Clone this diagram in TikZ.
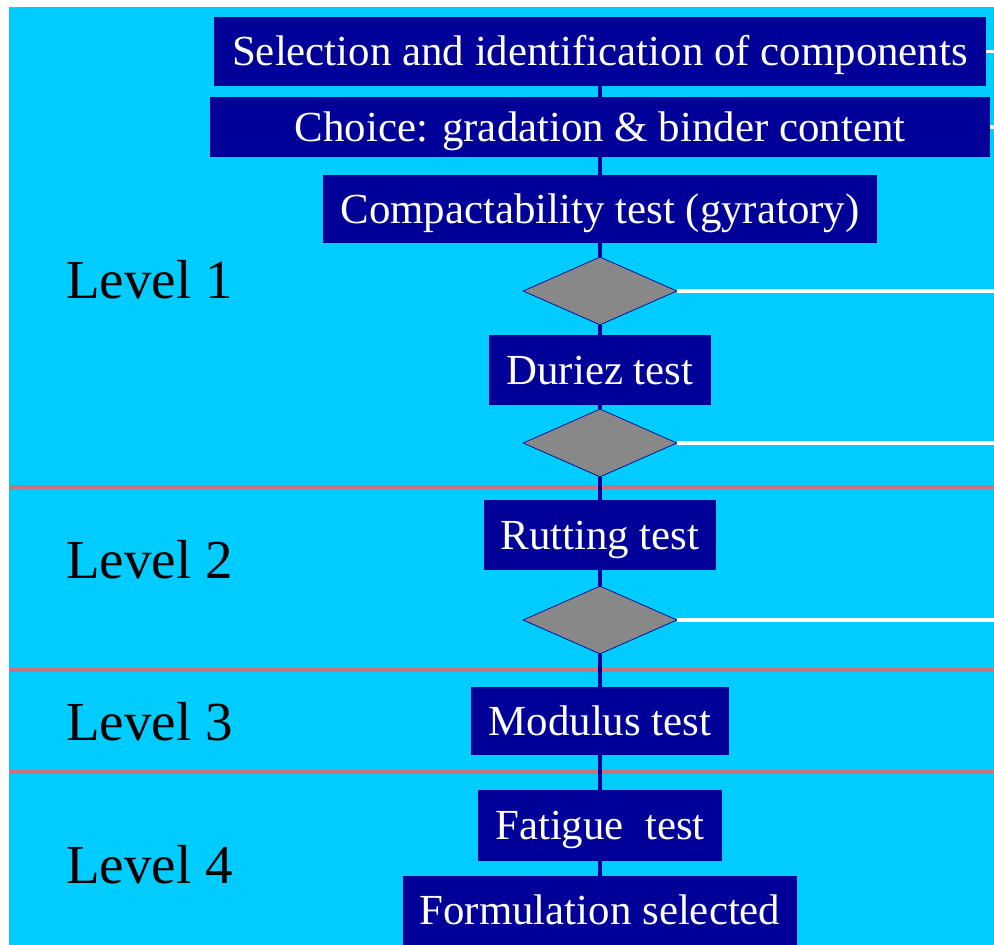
\documentclass[tikz,border=0pt]{standalone}
\usepackage{fontspec}
\setmainfont{Liberation Serif}
\usepackage{tikz}
\usetikzlibrary{shapes,positioning}
\usepackage{xcolor}
\definecolor{flcyan}{RGB}{0,204,255}
\definecolor{flnavy}{RGB}{0,0,153}
\definecolor{flgray}{RGB}{136,136,136}
\definecolor{flsep}{RGB}{200,116,124}
\tikzstyle{testbox} = [rectangle, fill=flnavy, text=white, inner sep=0pt, text height=16pt, text depth=0pt, minimum height=1.38cm, font=\fontsize{24.4}{28}\selectfont]
\tikzstyle{decision} = [diamond, fill=flgray, draw=flnavy, thin, inner sep=0pt, minimum width=3.08cm, minimum height=1.36cm]
\tikzstyle{flow} = [line width=2.2pt, color=flnavy]
\tikzstyle{reject} = [line width=2.2pt, color=white]
\tikzstyle{levelsep} = [line width=1.8pt, color=flsep]
\tikzstyle{level} = [anchor=base west, inner sep=0pt, font=\fontsize{31.3}{36}\selectfont]

\begin{document}
\begin{tikzpicture}[x=0.02cm, y=-0.02cm]
\useasboundingbox (0,0) rectangle (994,945);
\fill[flcyan] (9,7) rectangle (994,945);

% Level borders
\draw[levelsep] (9,487) -- (994,487);
\draw[levelsep] (9,670) -- (994,670);
\draw[levelsep] (9,772) -- (994,772);

% Level 1
\node[testbox, minimum width=15.44cm] (select) at (600,51.5) {Selection and identification of components};
\node[testbox, minimum width=15.6cm, minimum height=1.2cm] (choice) at (600,127) {Choice: gradation \& binder content};
\node[testbox, minimum width=11.1cm, minimum height=1.36cm] (compact) at (600,209) {Compactability test (gyratory)};
\node[decision] (check1) at (600,291) {};
\node[testbox, minimum width=4.46cm, minimum height=1.4cm] (duriez) at (600,370) {Duriez test};
\node[decision] (check2) at (600,443) {};

% Level 2
\node[testbox, minimum width=4.66cm, minimum height=1.4cm] (rutting) at (600,535) {Rutting test};
\node[decision] (check3) at (600,620) {};

% Level 3
\node[testbox, minimum width=5.16cm, minimum height=1.36cm] (modulus) at (600,721) {Modulus test};

% Level 4
\node[testbox, minimum width=4.9cm, minimum height=1.42cm] (fatigue) at (600,825.5) {Fatigue~ test};
\node[testbox, minimum width=7.88cm] (formul) at (600,910.5) {Formulation selected};

% Level labels
\node[level] (lev1) at (66,299) {Level 1};
\node[level] (lev2) at (66,579) {Level 2};
\node[level] (lev3) at (66,740) {Level 3};
\node[level] (lev4) at (66,883) {Level 4};

% Main flow
\draw[flow] (select.south) -- (choice.north);
\draw[flow] (choice.south) -- (compact.north);
\draw[flow] (compact.south) -- (check1.north);
\draw[flow] (check1.south) -- (duriez.north);
\draw[flow] (duriez.south) -- (check2.north);
\draw[flow] (check2.south) -- (rutting.north);
\draw[flow] (rutting.south) -- (check3.north);
\draw[flow] (check3.south) -- (modulus.north);
\draw[flow] (modulus.south) -- (fatigue.north);
\draw[flow] (fatigue.south) -- (formul.north);

% Exits to the right
\coordinate (out0) at (994,51.5);
\coordinate (out00) at (994,127);
\coordinate (out1) at (994,291);
\coordinate (out2) at (994,443);
\coordinate (out3) at (994,620);
\draw[reject] (select.east) -- (out0);
\draw[reject] (choice.east) -- (out00);
\draw[reject] (check1.east) -- (out1);
\draw[reject] (check2.east) -- (out2);
\draw[reject] (check3.east) -- (out3);
\end{tikzpicture}
\end{document}
